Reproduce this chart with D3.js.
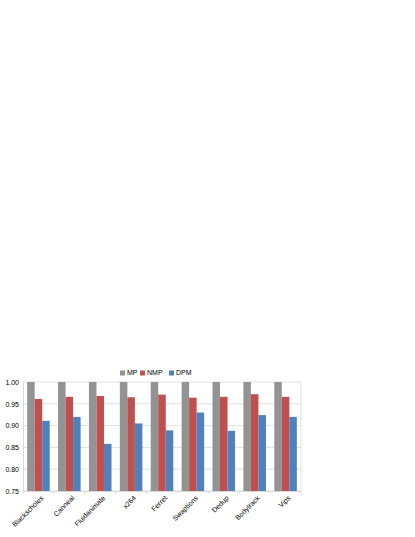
<!DOCTYPE html>
<html lang="en">
<head>
<meta charset="UTF-8">
<title>MP / NMP / DPM</title>
<script src="https://d3js.org/d3.v7.min.js"></script>
<style>
  body { margin: 0; background: #fff; font-family: "Liberation Sans", Arial, sans-serif; }
  .axis text { font-size: 7px; fill: #000; }
  .legend text { font-size: 7px; fill: #000; }
</style>
</head>
<body>
<div id="chart"></div>
<script>
const categories = ["Blackscholes", "Canneal", "Fluidanimate", "x264", "Ferret", "Swaptions", "Dedup", "Bodytrack", "Vips"];
const seriesNames = ["MP", "NMP", "DPM"];
const mp  = [1, 1, 1, 1, 1, 1, 1, 1, 1];
const nmp = [0.961, 0.966, 0.968, 0.965, 0.971, 0.964, 0.966, 0.972, 0.966];
const dpm = [0.911, 0.920, 0.858, 0.905, 0.889, 0.930, 0.888, 0.924, 0.920];
const yTicks = [0.75, 0.80, 0.85, 0.90, 0.95, 1.00];
const colors = ["#939393", "#c0504d", "#4f81bd"];

const W = 415, H = 537;
const margin = { top: 382, right: 114, bottom: 46, left: 23 };
const width = W - margin.left - margin.right;
const height = H - margin.top - margin.bottom;

const svg = d3.select("#chart").append("svg")
  .attr("width", W).attr("height", H);
const g = svg.append("g").attr("transform", `translate(${margin.left},${margin.top})`);

const x = d3.scaleBand().domain(categories).range([0, width]).paddingInner(0.27).paddingOuter(0.135);
const xs = d3.scaleBand().domain(seriesNames).range([0, x.bandwidth()]);
const y = d3.scaleLinear().domain([0.75, 1.0]).range([height, 0]);

// grid
g.selectAll("line.grid").data(yTicks).enter().append("line")
  .attr("x1", 0).attr("x2", width)
  .attr("y1", d => y(d)).attr("y2", d => y(d))
  .attr("stroke", "#d9d9d9").attr("stroke-width", 0.8);
g.append("line").attr("x1", width).attr("x2", width).attr("y1", 0).attr("y2", height)
  .attr("stroke", "#d9d9d9").attr("stroke-width", 0.8);

const data = [mp, nmp, dpm];
const rows = categories.map((c, i) => seriesNames.map((s, k) => ({ cat: c, s, k, v: data[k][i] })));

g.selectAll("g.cat").data(rows).enter().append("g")
  .attr("transform", d => `translate(${x(d[0].cat)},0)`)
  .selectAll("rect").data(d => d).enter().append("rect")
  .attr("x", d => xs(d.s))
  .attr("y", d => y(d.v))
  .attr("width", xs.bandwidth())
  .attr("height", d => height - y(d.v))
  .attr("fill", d => colors[d.k]);

// y axis
const yAxis = g.append("g").attr("class", "axis")
  .call(d3.axisLeft(y).tickValues(yTicks).tickFormat(d3.format(".2f")).tickSize(0).tickPadding(4));
yAxis.select(".domain").attr("stroke", "#d9d9d9");

// x axis
const xAxis = g.append("g").attr("class", "axis")
  .attr("transform", `translate(0,${height})`)
  .call(d3.axisBottom(x).tickSize(0).tickPadding(5));
xAxis.select(".domain").attr("stroke", "#d9d9d9");
xAxis.selectAll("text")
  .attr("transform", "rotate(-45)")
  .attr("dx", "-0.2em").attr("dy", "0.6em")
  .style("text-anchor", "end");
// boundary ticks between categories
const step = x.step();
g.selectAll("line.xtick").data(d3.range(categories.length + 1)).enter().append("line")
  .attr("x1", i => i * step).attr("x2", i => i * step)
  .attr("y1", height).attr("y2", height + 3)
  .attr("stroke", "#d9d9d9").attr("stroke-width", 0.8);

// legend
const legend = svg.append("g").attr("class", "legend").attr("transform", "translate(120,373)");
const lx = [0, 20, 49];
seriesNames.forEach((s, k) => {
  const lg = legend.append("g").attr("transform", `translate(${lx[k]},0)`);
  lg.append("rect").attr("x", 0).attr("y", -2.5).attr("width", 5).attr("height", 5).attr("fill", colors[k]);
  lg.append("text").attr("x", 7).attr("y", 0).attr("dy", "0.35em").text(s);
});
</script>
</body>
</html>
